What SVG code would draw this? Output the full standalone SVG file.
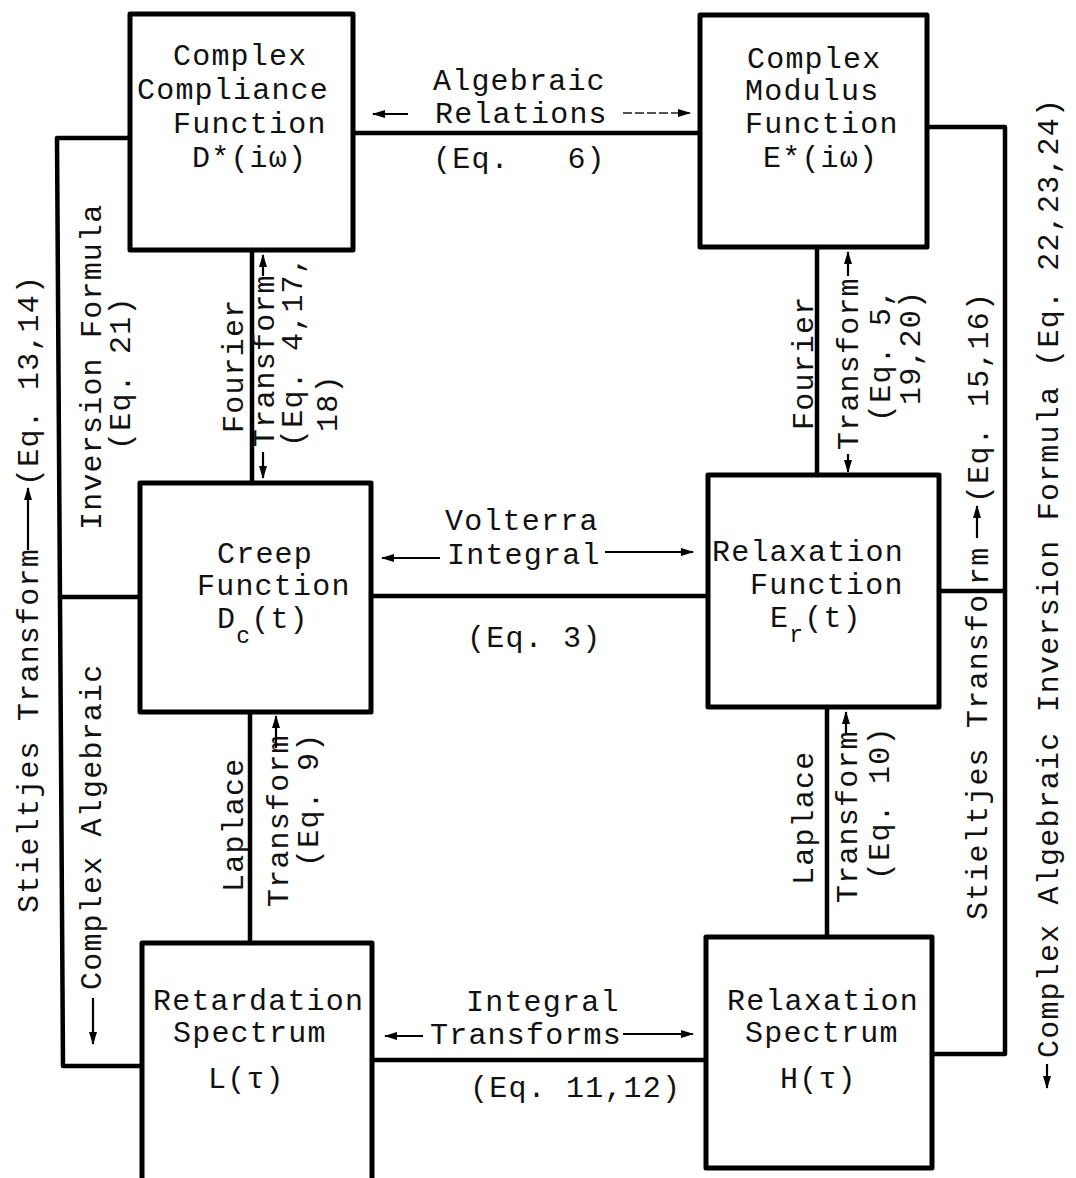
<svg xmlns="http://www.w3.org/2000/svg" width="1076" height="1178" viewBox="0 0 1076 1178">
<defs>
<style>
.t{font-family:"Liberation Mono","Courier New",monospace;font-size:30px;letter-spacing:1.2px;fill:#111;}
.box{fill:none;stroke:#000;stroke-width:5;stroke-linejoin:round;}
.c{fill:none;stroke:#000;stroke-width:4.5;stroke-linejoin:round;stroke-linecap:round;}
.a{fill:none;stroke:#000;stroke-width:2.2;marker-end:url(#ah);}
.ad{fill:none;stroke:#555;stroke-width:2;stroke-dasharray:9 3;marker-end:url(#ah);}
</style>
<marker id="ah" markerUnits="userSpaceOnUse" markerWidth="14" markerHeight="10" refX="12" refY="5" orient="auto">
<path d="M0,1 L13,5 L0,9 z" fill="#000"/>
</marker>
</defs>
<rect width="1076" height="1178" fill="#fff"/>

<g id="connectors">
<path class="c" d="M353,133 H700"/>
<path class="c" d="M130,138 H57 L63,1066 H142"/>
<path class="c" d="M140,597 H60"/>
<path class="c" d="M252,250 V483"/>
<path class="c" d="M817,247 V475"/>
<path class="c" d="M371,596 H708"/>
<path class="c" d="M250,712 V943"/>
<path class="c" d="M827,707 V937"/>
<path class="c" d="M372,1060 H706"/>
<path class="c" d="M927,127 H1005 V1054 H932"/>
<path class="c" d="M939,591 H1005"/>
</g>

<g id="node-complex-compliance">
<rect class="box" x="130" y="14" width="223" height="236"/>
<text class="t" x="173" y="65">Complex</text>
<text class="t" x="137" y="99">Compliance</text>
<text class="t" x="173" y="133">Function</text>
<text class="t" x="192" y="167">D*(iω)</text>
</g>

<g id="node-complex-modulus">
<rect class="box" x="700" y="15" width="227" height="232"/>
<text class="t" x="747" y="68">Complex</text>
<text class="t" x="745" y="100">Modulus</text>
<text class="t" x="745" y="133">Function</text>
<text class="t" x="763" y="167">E*(iω)</text>
</g>

<g id="node-creep">
<rect class="box" x="140" y="483" width="231" height="229"/>
<text class="t" x="217" y="563">Creep</text>
<text class="t" x="197" y="595">Function</text>
<text class="t" x="217" y="628">D<tspan dy="15" font-size="23">c</tspan><tspan dy="-15">(t)</tspan></text>
</g>

<g id="node-relaxation-function">
<rect class="box" x="708" y="475" width="231" height="232"/>
<text class="t" x="712" y="561">Relaxation</text>
<text class="t" x="750" y="594">Function</text>
<text class="t" x="770" y="627">E<tspan dy="15" font-size="23">r</tspan><tspan dy="-15">(t)</tspan></text>
</g>

<g id="node-retardation-spectrum">
<rect class="box" x="142" y="943" width="230" height="250"/>
<text class="t" x="153" y="1010">Retardation</text>
<text class="t" x="173" y="1042">Spectrum</text>
<text class="t" x="208" y="1088">L(τ)</text>
</g>

<g id="node-relaxation-spectrum">
<rect class="box" x="706" y="937" width="226" height="231"/>
<text class="t" x="727" y="1010">Relaxation</text>
<text class="t" x="745" y="1042">Spectrum</text>
<text class="t" x="780" y="1088">H(τ)</text>
</g>

<g id="labels">
<text class="t" x="433" y="90">Algebraic</text>
<text class="t" x="435" y="123">Relations</text>
<text class="t" x="433" y="168" xml:space="preserve">(Eq.   6)</text>
<path class="a" d="M408,114 H373"/>
<path class="ad" d="M623,113 H690"/>

<text class="t" x="445" y="530">Volterra</text>
<text class="t" x="447" y="564">Integral</text>
<text class="t" x="467" y="647">(Eq. 3)</text>
<path class="a" d="M440,558 H382"/>
<path class="a" d="M605,552 H693"/>

<text class="t" x="466" y="1011">Integral</text>
<text class="t" x="430" y="1044">Transforms</text>
<text class="t" x="470" y="1097">(Eq. 11,12)</text>
<path class="a" d="M423,1036 H385"/>
<path class="a" d="M623,1034 H693"/>

<text class="t" x="243" y="433" transform="rotate(-90 243 433)">Fourier</text>
<text class="t" x="274" y="447" transform="rotate(-90 274 447)">Transform</text>
<text class="t" x="302" y="447" transform="rotate(-90 302 447)">(Eq. 4,17,</text>
<text class="t" x="337" y="432" transform="rotate(-90 337 432)">18)</text>
<path class="a" d="M263,452 V478"/>
<path class="a" d="M263,276 V255"/>

<text class="t" x="813" y="430" transform="rotate(-90 813 430)">Fourier</text>
<text class="t" x="858" y="450" transform="rotate(-90 858 450)">Transform</text>
<text class="t" x="890" y="422" transform="rotate(-90 890 422)">(Eq. 5,</text>
<text class="t" x="920" y="405" transform="rotate(-90 920 405)">19,20)</text>
<path class="a" d="M848,454 V472"/>
<path class="a" d="M848,276 V252"/>

<text class="t" x="243" y="892" transform="rotate(-90 243 892)">Laplace</text>
<text class="t" x="288" y="907" transform="rotate(-90 288 907)">Transform</text>
<text class="t" x="318" y="867" transform="rotate(-90 318 867)">(Eq. 9)</text>
<path class="a" d="M276,748 V716"/>

<text class="t" x="813" y="885" transform="rotate(-90 813 885)">Laplace</text>
<text class="t" x="857" y="903" transform="rotate(-90 857 903)">Transform</text>
<text class="t" x="889" y="880" transform="rotate(-90 889 880)">(Eq. 10)</text>
<path class="a" d="M846,733 V712"/>

<text class="t" x="38" y="913" transform="rotate(-90 38 913)">Stieltjes Transform</text>
<path class="a" d="M28,550 V488"/>
<text class="t" x="38" y="486" transform="rotate(-90 38 486)">(Eq. 13,14)</text>
<text class="t" x="101" y="530" transform="rotate(-90 101 530)">Inversion Formula</text>
<text class="t" x="130" y="450" transform="rotate(-90 130 450)">(Eq. 21)</text>
<text class="t" x="101" y="990" transform="rotate(-90 101 990)">Complex Algebraic</text>
<path class="a" d="M93,998 V1044"/>

<text class="t" x="987" y="920" transform="rotate(-90 987 920)">Stieltjes Transfo</text>
<text class="t" x="988" y="585" transform="rotate(-90 988 585)">rm</text>
<path class="a" d="M977,538 V506"/>
<text class="t" x="988" y="503" transform="rotate(-90 988 503)">(Eq. 15,16)</text>
<text class="t" x="1058" y="1058" transform="rotate(-90 1058 1058)">Complex Algebraic Inversion Formula (Eq. 22,23,24)</text>
<path class="a" d="M1047,1064 V1088"/>
</g>
</svg>
